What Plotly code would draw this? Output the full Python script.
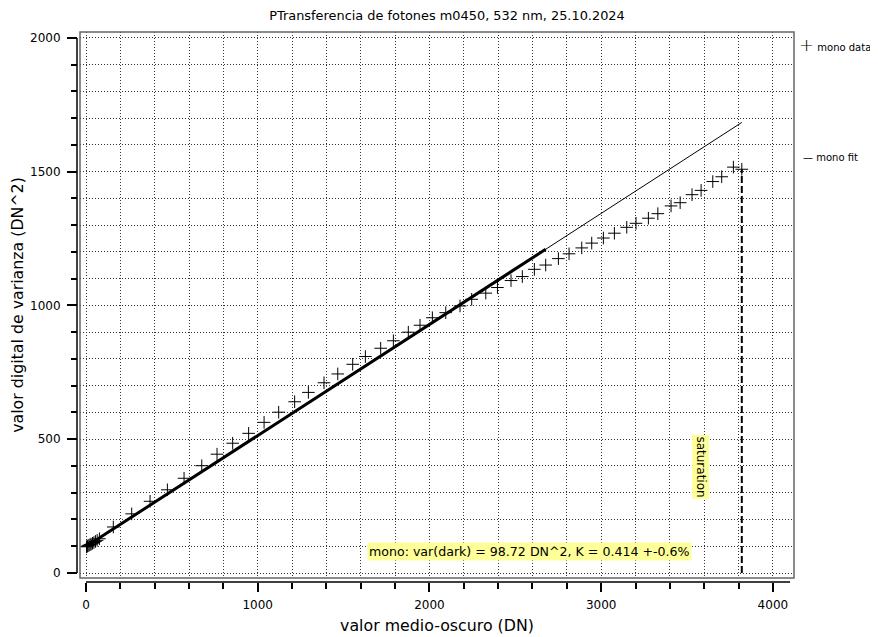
import plotly.graph_objects as go

# mean - dark (DN) and variance (DN^2)
mean_dn = [3, 8, 12, 18, 24, 30, 38, 46, 55, 65, 78,
           159, 266, 373, 474, 571, 674, 763, 854, 947, 1037,
           1122, 1215, 1295, 1386, 1466, 1553, 1627, 1716, 1790, 1877,
           1945, 2017, 2095, 2178, 2246, 2328, 2396, 2475, 2541, 2611,
           2677, 2751, 2813, 2887, 2945, 3013, 3077, 3149, 3203, 3275,
           3330, 3407, 3460, 3529, 3582, 3650, 3702, 3770, 3819]
var_dn2 = [98, 100, 102, 104, 106, 108, 111, 114, 118, 122, 128,
           172, 221, 268, 311, 354, 401, 444, 485, 522, 563,
           601, 640, 675, 711, 744, 780, 809, 840, 868, 900,
           926, 954, 973, 998, 1023, 1046, 1067, 1093, 1108, 1135,
           1151, 1175, 1193, 1215, 1233, 1252, 1270, 1292, 1307, 1326,
           1343, 1372, 1384, 1414, 1430, 1463, 1481, 1517, 1509]

# fit line endpoints (full and fitted range)
fit_x = [0, 3819]
fit_y = [98.72, 1684]
fit_range_x = [0, 2677]
fit_range_y = [98.72, 1210]

# saturation marker
sat_x = [3819, 3819]
sat_y = [0, 1509]

FONT = "DejaVu Sans"
GRID = dict(showgrid=True, gridcolor="#333", griddash="1px,2px", gridwidth=1)

fig = go.Figure()
fig.add_trace(go.Scatter(x=mean_dn, y=var_dn2, mode="markers", name="mono data",
                         marker=dict(symbol="cross-thin", size=9, color="black",
                                     line=dict(width=1, color="black")),
                         showlegend=False))
fig.add_trace(go.Scatter(x=fit_x, y=fit_y, mode="lines", name="mono fit",
                         line=dict(color="black", width=1), showlegend=False))
fig.add_trace(go.Scatter(x=fit_range_x, y=fit_range_y, mode="lines", showlegend=False,
                         line=dict(color="black", width=3)))
fig.add_trace(go.Scatter(x=sat_x, y=sat_y, mode="lines", showlegend=False,
                         line=dict(color="black", width=2, dash="7px,3px")))

# frame round the plot area and detached axis lines
fig.add_shape(type="rect", xref="x domain", yref="y domain", x0=0, x1=1, y0=0, y1=1,
              line=dict(color="#666", width=1.5))
fig.add_shape(type="line", xref="paper", yref="y", x0=0, x1=0, y0=0, y1=2000,
              line=dict(color="black", width=1.5))
fig.add_shape(type="line", xref="x", yref="paper", x0=0, x1=4100, y0=0, y1=0,
              line=dict(color="black", width=1.5))

fig.add_annotation(x=2581, y=82, text="mono: var(dark) = 98.72 DN^2, K = 0.414 +-0.6%",
                   showarrow=False, bgcolor="#ffff99", borderpad=1,
                   font=dict(family=FONT, size=12.6, color="black"))
fig.add_annotation(x=3579, y=396, text="saturation", textangle=90,
                   showarrow=False, bgcolor="#ffff99", borderpad=1,
                   font=dict(family=FONT, size=12, color="black"))

# legend entries in the right margin
fig.add_annotation(xref="paper", yref="paper", x=1.004, y=0.9764, xanchor="left",
                   yanchor="middle", showarrow=False,
                   text="<span style='font-size:18px;font-weight:200'>+</span> mono data",
                   font=dict(family=FONT, size=10, color="black"))
fig.add_annotation(xref="paper", yref="paper", x=1.010, y=0.7727, xanchor="left",
                   yanchor="middle", showarrow=False, text="\u2014 mono fit",
                   font=dict(family=FONT, size=10, color="black"))

fig.update_layout(
    width=878, height=637,
    margin=dict(l=69, r=92, t=24, b=63, autoexpand=False),
    plot_bgcolor="white", paper_bgcolor="white",
    font=dict(family=FONT, size=12, color="black"),
    showlegend=False,
    title=dict(text="PTransferencia de fotones m0450, 532 nm, 25.10.2024",
               x=0.5, xref="container", y=0.989, yref="container",
               xanchor="center", yanchor="middle", font=dict(size=12.9)),
    xaxis=dict(domain=[3 / 717, 1], range=[-35, 4123], anchor="free", position=0,
               dtick=1000, ticks="outside", ticklen=9, tickwidth=1.5, tickcolor="black",
               showline=False, zeroline=False, automargin=False, ticklabelstandoff=3,
               minor=dict(dtick=200, ticks="outside", ticklen=6, tickcolor="black",
                          **GRID),
               title=dict(text="valor medio-oscuro (DN)", font=dict(size=15.8), standoff=8),
               **GRID),
    yaxis=dict(domain=[4 / 550, 1], range=[-18.7, 2022], anchor="free", position=0,
               dtick=500, ticks="outside", ticklen=10, tickwidth=1.5, tickcolor="black",
               showline=False, zeroline=False, automargin=False, ticklabelstandoff=4,
               minor=dict(dtick=100, ticks="outside", ticklen=6, tickcolor="black",
                          **GRID),
               title=dict(text="valor digital de varianza (DN^2)", font=dict(size=15.8), standoff=7),
               **GRID),
)

fig.write_html("out.html")
